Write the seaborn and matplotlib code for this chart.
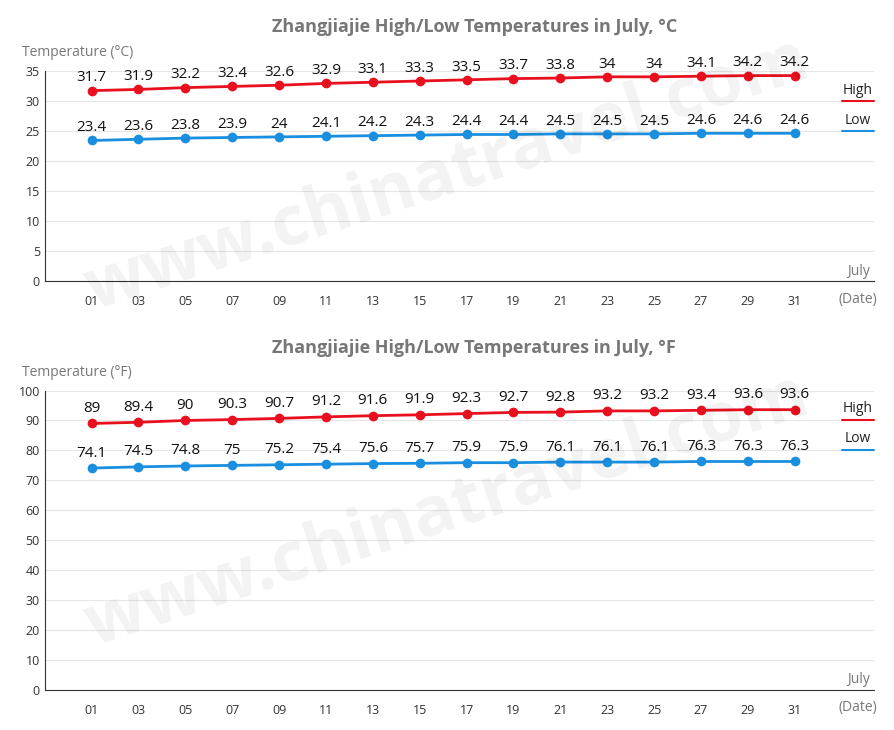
import matplotlib
matplotlib.use("Agg")
import matplotlib.pyplot as plt
import matplotlib.transforms as mtransforms
import seaborn as sns
import pandas as pd

sns.set_style("white")
plt.rcParams['font.family'] = ['Open Sans', 'DejaVu Sans']

dates = ["01", "03", "05", "07", "09", "11", "13", "15", "17", "19", "21", "23", "25", "27", "29", "31"]
high_c = [31.7, 31.9, 32.2, 32.4, 32.6, 32.9, 33.1, 33.3, 33.5, 33.7, 33.8, 34, 34, 34.1, 34.2, 34.2]
low_c = [23.4, 23.6, 23.8, 23.9, 24, 24.1, 24.2, 24.3, 24.4, 24.4, 24.5, 24.5, 24.5, 24.6, 24.6, 24.6]
high_f = [89, 89.4, 90, 90.3, 90.7, 91.2, 91.6, 91.9, 92.3, 92.7, 92.8, 93.2, 93.2, 93.4, 93.6, 93.6]
low_f = [74.1, 74.5, 74.8, 75, 75.2, 75.4, 75.6, 75.7, 75.9, 75.9, 76.1, 76.1, 76.1, 76.3, 76.3, 76.3]

RED = "#e8101e"
BLUE = "#1a8fe0"
GREY = "#777777"


def draw_panel(ax, high, low, ymax, step, unit, leg_hi, leg_lo, fig_title_y, ylabel_y):
    x = list(range(len(dates)))
    df = pd.DataFrame({"x": x + x, "t": high + low,
                       "s": ["High"] * len(x) + ["Low"] * len(x)})
    sns.lineplot(data=df, x="x", y="t", hue="s", palette={"High": RED, "Low": BLUE},
                 marker="o", markersize=7, markeredgewidth=0, linewidth=2,
                 legend=False, ax=ax)
    for xi, h, l in zip(x, high, low):
        ax.text(xi, h + ymax * 0.025, f"{h:g}", ha="center", va="bottom", fontsize=11, color="#111111")
        ax.text(xi, l + ymax * 0.025, f"{l:g}", ha="center", va="bottom", fontsize=11, color="#111111")
    ax.set_xlim(-1, 16.7)
    ax.set_ylim(0, ymax)
    ax.set_yticks(range(0, ymax + 1, step))
    ax.set_xticks(x)
    ax.set_xticklabels(dates)
    ax.tick_params(axis="both", labelsize=9, colors="#333333", length=0)
    ax.tick_params(axis="x", pad=10)
    ax.grid(axis="y", color="#e6e6e6", linewidth=0.8)
    for s in ["top", "right"]:
        ax.spines[s].set_visible(False)
    ax.spines["left"].set_color("#333333")
    ax.spines["bottom"].set_color("#333333")
    ax.set_xlabel("")
    ax.set_ylabel("")
    # legend entries
    ax.plot([16.0, 16.7], [leg_hi, leg_hi], color=RED, lw=1.5, clip_on=False)
    ax.plot([16.0, 16.7], [leg_lo, leg_lo], color=BLUE, lw=1.5, clip_on=False)
    ax.text(16.35, leg_hi + ymax * 0.015, "High", ha="center", va="bottom", fontsize=10, color="#222222")
    ax.text(16.35, leg_lo + ymax * 0.015, "Low", ha="center", va="bottom", fontsize=10, color="#222222")
    ax.text(16.6, ymax * 0.01, "July", ha="right", va="bottom", fontsize=10, color=GREY)
    trans = mtransforms.blended_transform_factory(ax.transData, ax.transAxes) + \
        mtransforms.ScaledTranslation(0, -18 / 100, ax.figure.dpi_scale_trans)
    ax.text(16.35, 0, "(Date)", ha="center", va="center", fontsize=10, color=GREY, transform=trans)
    fig.text(0.53, fig_title_y, f"Zhangjiajie High/Low Temperatures in July, °{unit}",
             ha="center", va="center", fontsize=13, fontweight="bold", color=GREY)
    fig.text(0.025, ylabel_y, f"Temperature (°{unit})", ha="left", va="center", fontsize=10, color=GREY)


fig = plt.figure(figsize=(8.95, 7.3), dpi=100)
ax1 = fig.add_axes([0.050, 0.615, 0.927, 0.288])
ax2 = fig.add_axes([0.050, 0.055, 0.927, 0.410])

draw_panel(ax1, high_c, low_c, 35, 5, "C", 30, 25, 1 - 27 / 730, 1 - 52 / 730)
draw_panel(ax2, high_f, low_f, 100, 10, "F", 90, 80, 1 - 348 / 730, 1 - 372 / 730)

# faint watermark
for yy in [0.76, 0.30]:
    fig.text(0.5, yy, "www.chinatravel.com", ha="center", va="center", fontsize=50,
             fontweight="bold", color="#000000", alpha=0.05, rotation=18)

fig.savefig("out.png", dpi=100)
